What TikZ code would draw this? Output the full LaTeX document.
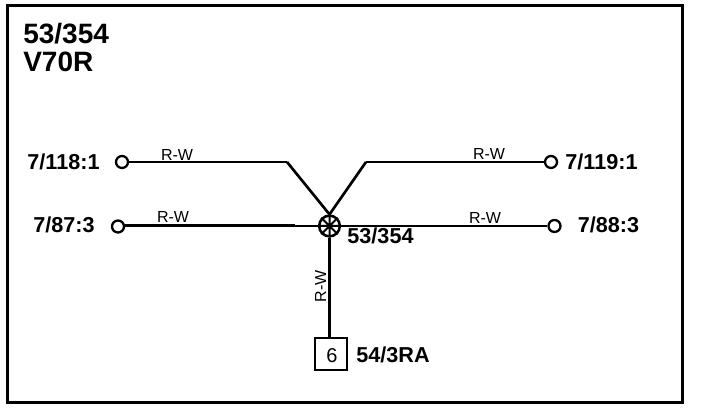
\documentclass[tikz,border=0pt]{standalone}
\usepackage{fontspec}
\setmainfont{Liberation Sans}
\begin{document}
\begin{tikzpicture}[x=0.75pt,y=-0.75pt,
  frameline/.style={draw=black,line width=2.25pt},
  wire/.style={draw=black,line width=1.6pt},
  diagwire/.style={draw=black,line width=2pt},
  thickwire/.style={draw=black,line width=2.25pt},
  terminal/.style={circle,draw=black,line width=1.7pt,fill=white,minimum size=9pt,inner sep=0pt},
  splice/.style={circle,draw=black,line width=1.9pt,fill=white,minimum size=15.5pt,inner sep=0pt},
  conn/.style={draw=black,line width=1.5pt,fill=white,minimum width=24pt,minimum height=23.5pt,inner sep=0pt},
  title/.style={font=\fontsize{21pt}{22pt}\selectfont\bfseries,anchor=base west,inner sep=0pt},
  pin/.style={font=\fontsize{16.2pt}{18pt}\selectfont\bfseries,anchor=base,inner sep=0pt},
  wirelabel/.style={font=\fontsize{12pt}{14pt}\selectfont,anchor=base,inner sep=0pt}]
\useasboundingbox (0,0) rectangle (704,416);
\fill[white] (0,0) rectangle (704,416);
\draw[frameline] (7.5,5.5) rectangle (682,403);

\node[title] (t1) at (23,44) {53/354};
\node[title] (t2) at (23,71.5) {V70R};

\node[terminal] (a) at (122,162) {};
\node[terminal] (b) at (118,226.5) {};
\node[terminal] (c) at (551,162) {};
\node[terminal] (d) at (554.5,226) {};
\node[splice] (s) at (329.5,226) {};
\node[conn] (box) at (331,354) {};
\coordinate (ab) at (287,162);
\coordinate (cb) at (366,162);
\coordinate (bm) at (295,226);

\draw[wire] (a) -- (ab);
\draw[wire] (c) -- (cb);
\draw[diagwire,line join=round] (ab) -- (s.north);
\draw[diagwire,line join=round] (cb) -- (s.north);
\draw[thickwire] (b.east |- bm) -- (bm);
\draw[wire] (bm) -- (s.west);
\draw[wire] (s.east) -- (s.east -| d.west);
\draw[thickwire] (s.south) -- (box.north -| s.south);
\draw[line width=1.5pt] (s.north west) -- (s.south east) (s.north east) -- (s.south west)
  (s.north) -- (s.south) (s.west) -- (s.east);

\node[pin] (la) at (63.5,170) {7/118:1};
\node[pin] (lb) at (64,232.5) {7/87:3};
\node[pin] (lc) at (601.5,170) {7/119:1};
\node[pin] (ld) at (608.5,233) {7/88:3};
\node[pin] (ls) at (380.5,244) {53/354};
\node[pin] (lbox) at (393,363) {54/3RA};
\node[font=\fontsize{15pt}{17pt}\selectfont,anchor=base,inner sep=0pt] (six) at (332,362.5) {6};

\node[wirelabel] (r1) at (177,160.5) {R-W};
\node[wirelabel] (r2) at (173,222.5) {R-W};
\node[wirelabel] (r3) at (489,160) {R-W};
\node[wirelabel] (r4) at (485,223.5) {R-W};
\node[wirelabel,rotate=90] (r5) at (326,286.5) {R-W};
\end{tikzpicture}
\end{document}
